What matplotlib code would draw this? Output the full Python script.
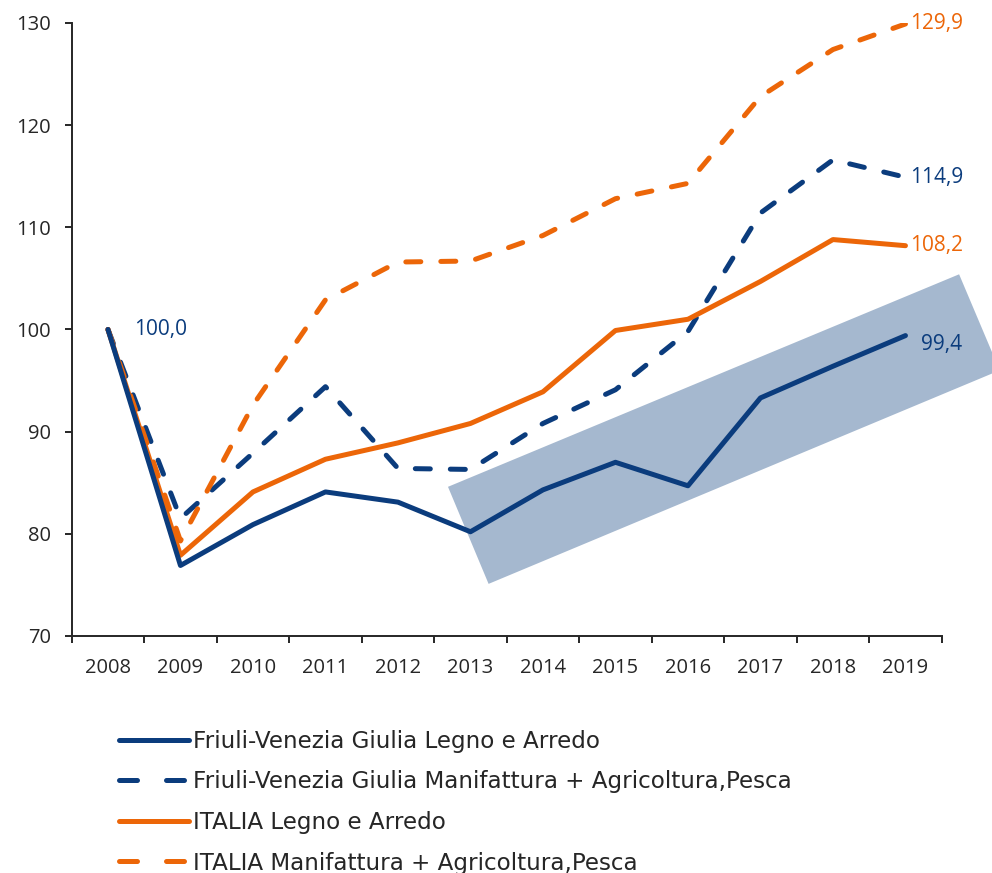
import matplotlib
matplotlib.use("Agg")
import matplotlib.pyplot as plt
from matplotlib.patches import Polygon
from matplotlib.lines import Line2D

# ---- data -------------------------------------------------------------
years = ["2008", "2009", "2010", "2011", "2012", "2013",
         "2014", "2015", "2016", "2017", "2018", "2019"]

fvg_legno = [100.0, 76.9, 80.9, 84.1, 83.1, 80.2, 84.3, 87.0, 84.7, 93.3, 96.4, 99.4]
fvg_manif = [100.0, 81.5, 87.9, 94.4, 86.4, 86.3, 90.8, 94.1, 99.8, 111.4, 116.6, 114.9]
ita_legno = [100.0, 77.9, 84.1, 87.3, 88.9, 90.8, 93.9, 99.9, 101.0, 104.7, 108.8, 108.2]
ita_manif = [100.0, 79.3, 92.6, 102.9, 106.6, 106.7, 109.2, 112.8, 114.3, 122.8, 127.4, 129.9]

series_names = [
    "Friuli-Venezia Giulia Legno e Arredo",
    "Friuli-Venezia Giulia Manifattura + Agricoltura,Pesca",
    "ITALIA Legno e Arredo",
    "ITALIA Manifattura + Agricoltura,Pesca",
]

y_ticks = [70, 80, 90, 100, 110, 120, 130]

# highlighted trend band (category index, value)
band_x = [4.69, 5.25, 12.30, 11.74]
band_y = [84.6, 75.1, 96.0, 105.4]

# ---- style --------------------------------------------------------------
NAVY = "#0B3C7D"
ORANGE = "#EC6608"
BAND = "#A5B8CF"
TXT = "#262626"
FONT = ["Open Sans", "DejaVu Sans"]
plt.rcParams["font.family"] = FONT

fig = plt.figure(figsize=(9.92, 8.73), dpi=100)
ax = fig.add_axes([0.0723, 0.2715, 0.8770, 0.7022])

x = list(range(len(years)))

band = Polygon(list(zip(band_x, band_y)), closed=True, facecolor=BAND,
               edgecolor="none", clip_on=False, zorder=1)
ax.add_patch(band)

lw = 3.6
dash = (3.0, 4.0)
ax.plot(x, fvg_manif, color=NAVY, lw=lw, dashes=dash, dash_capstyle="round",
        zorder=3)
ax.plot(x, ita_manif, color=ORANGE, lw=lw, dashes=dash, dash_capstyle="round",
        zorder=3)
ax.plot(x, ita_legno, color=ORANGE, lw=lw, solid_capstyle="round",
        solid_joinstyle="round", zorder=4)
ax.plot(x, fvg_legno, color=NAVY, lw=lw, solid_capstyle="round",
        solid_joinstyle="round", zorder=5)

def fmt(v):
    return f"{v:.1f}".replace(".", ",")

lab_kw = dict(fontsize=15, va="center", ha="left", textcoords="offset points")
last = len(years) - 1
ax.annotate(fmt(ita_manif[last]), (last, ita_manif[last]), xytext=(3.0, 0),
            color=ORANGE, **lab_kw)
ax.annotate(fmt(fvg_manif[last]), (last, fvg_manif[last]), xytext=(3.0, 0),
            color=NAVY, **lab_kw)
ax.annotate(fmt(ita_legno[last]), (last, ita_legno[last]), xytext=(3.0, 0),
            color=ORANGE, **lab_kw)
ax.annotate(fmt(fvg_legno[last]), (last, fvg_legno[last]), xytext=(11, -6.5),
            color=NAVY, **lab_kw)
ax.annotate(fmt(fvg_legno[0]), (0, fvg_legno[0]), xytext=(19, 0),
            color=NAVY, **lab_kw)

# ---- axes -------------------------------------------------------------
ax.set_xlim(-0.5, len(years) - 0.5)
ax.set_ylim(70, 130)
ax.set_yticks(y_ticks)
ax.set_yticklabels([str(t) for t in y_ticks])
ax.set_xticks([i - 0.5 for i in range(len(years) + 1)])
ax.set_xticklabels([])
ax.set_xticks(x, minor=True)
ax.set_xticklabels(years, minor=True)
ax.tick_params(axis="x", which="minor", length=0, pad=16, labelsize=14.5,
               labelcolor=TXT)
ax.tick_params(axis="x", which="major", length=5, width=1.4, color=TXT)
ax.tick_params(axis="y", length=5, width=1.4, color=TXT, pad=10,
               labelsize=14.5, labelcolor=TXT)
for s in ("top", "right"):
    ax.spines[s].set_visible(False)
for s in ("left", "bottom"):
    ax.spines[s].set_linewidth(1.4)
    ax.spines[s].set_color(TXT)

# ---- legend -------------------------------------------------------------
leg_dash = (3.6, 5.8)
handles = [
    Line2D([], [], color=NAVY, lw=lw, solid_capstyle="round"),
    Line2D([], [], color=NAVY, lw=lw, dashes=leg_dash, dash_capstyle="round"),
    Line2D([], [], color=ORANGE, lw=lw, solid_capstyle="round"),
    Line2D([], [], color=ORANGE, lw=lw, dashes=leg_dash, dash_capstyle="round"),
]
leg = fig.legend(handles, series_names,
                 loc="upper left", bbox_to_anchor=(0.099, 0.1876),
                 frameon=False, handlelength=3.05,
                 handletextpad=0.15, labelspacing=0.76,
                 prop={"family": ["DejaVu Sans"], "size": 16.6})
for t in leg.get_texts():
    t.set_color(TXT)

fig.savefig("out.png", dpi=100)
